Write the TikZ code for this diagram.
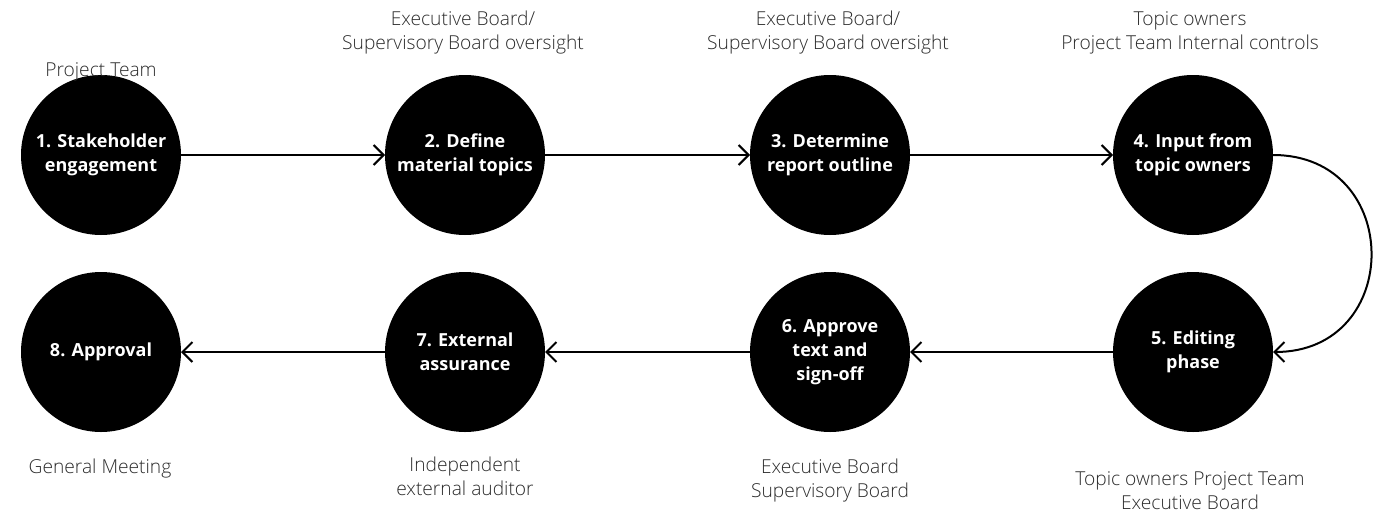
\documentclass[tikz,border=0pt]{standalone}
\usepackage{fontspec}
\setmainfont{Open Sans}
\newfontfamily\lightfont{Open Sans Light}
\usetikzlibrary{arrows.meta,calc}
\definecolor{labelgray}{HTML}{2B2B2B}
\begin{document}
\begin{tikzpicture}[x=1pt,y=-1pt,
  stage/.style={circle,fill=black,minimum size=160pt,inner sep=0pt,outer sep=0pt,
    text=white,align=center,font=\fontsize{18}{24}\selectfont\bfseries},
  lab/.style={anchor=base,align=center,text=labelgray,inner sep=0pt,
    font=\fontsize{19.2}{24}\selectfont\lightfont},
  flow/.style={line width=2pt,-{Straight Barb[length=10pt,width=20pt]}}]
\useasboundingbox (0,0) rectangle (1383,514);
% stages
\node[stage] (c1) at (101,155) {1. Stakeholder\\engagement};
\node[stage] (c2) at (465,155) {2. Define\\material topics};
\node[stage] (c3) at (830,155) {3. Determine\\report outline};
\node[stage] (c4) at (1193,155) {4. Input from\\topic owners};
\node[stage] (c5) at (1193,352) {5. Editing\\phase};
\node[stage] (c6) at (830,352) {6. Approve\\text and\\sign-off};
\node[stage] (c7) at (465,352) {7. External\\assurance};
\node[stage] (c8) at (101,352) {8. Approval};
% labels (base = baseline of last line)
\node[lab] (l1) at (101,76) {Project Team};
\node[lab] (l2) at (463,49.5) {Executive Board/\\Supervisory Board oversight};
\node[lab] (l3) at (828,49.5) {Executive Board/\\Supervisory Board oversight};
\node[lab] (l4) at (1190,49.5) {Topic owners\\Project Team Internal controls};
\node[lab] (l5) at (1190,509) {Topic owners Project Team\\Executive Board};
\node[lab] (l6) at (830,497) {Executive Board\\Supervisory Board};
\node[lab] (l7) at (465,495) {Independent\\external auditor};
\node[lab] (l8) at (100,473) {General Meeting};
% connectors
\draw[flow] (c1) -- (c2);
\draw[flow] (c2) -- (c3);
\draw[flow] (c3) -- (c4);
\draw[flow] (c4.east) .. controls ($(c4.east)+(131,0)$) and ($(c5.east)+(131,0)$) .. (c5.east);
\draw[flow] (c5) -- (c6);
\draw[flow] (c6) -- (c7);
\draw[flow] (c7) -- (c8);
\end{tikzpicture}
\end{document}
